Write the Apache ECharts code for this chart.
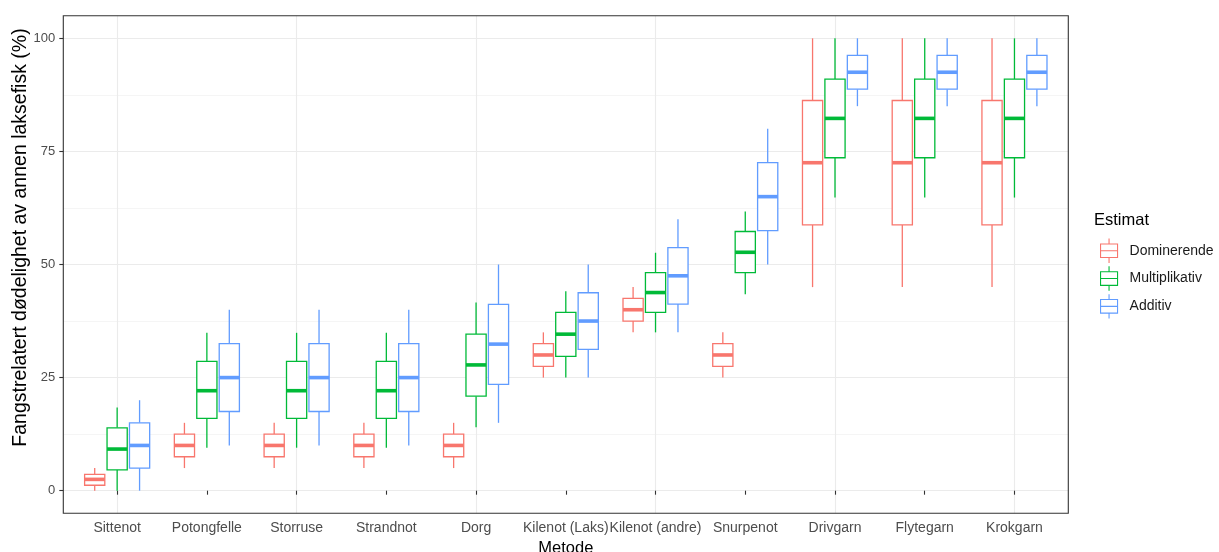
<!DOCTYPE html>
<html>
<head>
<meta charset="utf-8">
<script src="https://cdn.jsdelivr.net/npm/echarts@6/dist/echarts.min.js"></script>
<style>
  html, body { margin: 0; padding: 0; background: #fff; }
  #chart { width: 1219px; height: 552px; }
</style>
</head>
<body>
<div id="chart"></div>
<script>
// Fishing methods on the x axis
const categories = ['Sittenot', 'Potongfelle', 'Storruse', 'Strandnot', 'Dorg',
  'Kilenot (Laks)', 'Kilenot (andre)', 'Snurpenot', 'Drivgarn', 'Flytegarn', 'Krokgarn'];

// Box statistics per method: [min, Q1, median, Q3, max]
const dominerende = [
  [0, 1.2, 2.5, 3.6, 5],
  [5, 7.5, 10, 12.5, 15],
  [5, 7.5, 10, 12.5, 15],
  [5, 7.5, 10, 12.5, 15],
  [5, 7.5, 10, 12.5, 15],
  [25, 27.5, 30, 32.5, 35],
  [35, 37.5, 40, 42.5, 45],
  [25, 27.5, 30, 32.5, 35],
  [45, 58.75, 72.5, 86.25, 100],
  [45, 58.75, 72.5, 86.25, 100],
  [45, 58.75, 72.5, 86.25, 100]
];
const multiplikativ = [
  [0, 4.6, 9.2, 13.9, 18.4],
  [9.5, 16, 22.1, 28.6, 34.9],
  [9.5, 16, 22.1, 28.6, 34.9],
  [9.5, 16, 22.1, 28.6, 34.9],
  [14, 20.9, 27.8, 34.6, 41.6],
  [25, 29.7, 34.6, 39.4, 44.1],
  [35, 39.4, 43.8, 48.2, 52.6],
  [43.4, 48.2, 52.7, 57.3, 61.7],
  [64.8, 73.6, 82.3, 91, 100],
  [64.8, 73.6, 82.3, 91, 100],
  [64.8, 73.6, 82.3, 91, 100]
];
const additiv = [
  [0, 5, 10, 15, 20],
  [10, 17.5, 25, 32.5, 40],
  [10, 17.5, 25, 32.5, 40],
  [10, 17.5, 25, 32.5, 40],
  [15, 23.5, 32.4, 41.2, 50],
  [25, 31.25, 37.5, 43.75, 50],
  [35, 41.25, 47.5, 53.75, 60],
  [50, 57.5, 65, 72.5, 80],
  [85, 88.75, 92.5, 96.25, 100],
  [85, 88.75, 92.5, 96.25, 100],
  [85, 88.75, 92.5, 96.25, 100]
];
const yTicks = [0, 25, 50, 75, 100];

const seriesNames = ['Dominerende', 'Multiplikativ', 'Additiv'];
const seriesData = [dominerende, multiplikativ, additiv];
const colors = ['#F8766D', '#00BA38', '#619CFF'];
const dodge = [-0.25, 0, 0.25];   // offset of each estimate within a method, in bands
const boxFrac = 0.225;            // box width, in bands

const FONT = '"Liberation Sans", Arial, Helvetica, sans-serif';

// Panel geometry: discrete x range is padded by 0.6 band on each side
const panel = { left: 63.3, top: 15.7, width: 1005, height: 497.6 };
const nCat = categories.length;
const band = panel.width / (nCat - 1 + 1.2);
const yTop = panel.top + panel.height * 5 / 110;    // y = 100
const yH = panel.height * 100 / 110;                // 0..100 span

function renderBox(params, api) {
  const s = params.seriesIndex;
  const cat = api.value(0);
  const v = [api.value(1), api.value(2), api.value(3), api.value(4), api.value(5)];
  const bw = api.size([1, 0])[0];
  const cx = api.coord([cat, 0])[0] + dodge[s] * bw;
  const half = bw * boxFrac / 2;
  const py = v.map(val => api.coord([cat, val])[1]);
  const c = colors[s];
  return {
    type: 'group',
    children: [
      { type: 'line', shape: { x1: cx, y1: py[3], x2: cx, y2: py[4] }, style: { stroke: c, lineWidth: 1.3 } },
      { type: 'line', shape: { x1: cx, y1: py[1], x2: cx, y2: py[0] }, style: { stroke: c, lineWidth: 1.3 } },
      { type: 'rect', shape: { x: cx - half, y: py[3], width: 2 * half, height: py[1] - py[3] },
        style: { fill: '#fff', stroke: c, lineWidth: 1.3 } },
      { type: 'line', shape: { x1: cx - half, y1: py[2], x2: cx + half, y2: py[2] }, style: { stroke: c, lineWidth: 3.6 } }
    ]
  };
}

const chart = echarts.init(document.getElementById('chart'), null, { renderer: 'canvas' });

const gridBase = { containLabel: false, outerBoundsMode: 'none' };

const option = {
  animation: false,
  backgroundColor: '#fff',
  textStyle: { fontFamily: FONT },
  title: {
    text: 'Estimat', left: 1094, top: 212, padding: 0,
    textStyle: { fontFamily: FONT, fontSize: 16.5, fontWeight: 'normal', color: '#000' }
  },
  legend: {
    orient: 'vertical', left: 1100, top: 238, padding: 0,
    itemWidth: 17, itemHeight: 24.4, itemGap: 2.3,
    icon: 'path://M8.5,0V5.4M0,5.4H17V19H0ZM0,12.2H17M8.5,19V24.4',
    textStyle: { fontFamily: FONT, fontSize: 14, color: '#1A1A1A', padding: [0, 0, 0, 7] },
    data: seriesNames.map((n, i) => ({
      name: n, itemStyle: { color: '#fff', borderColor: colors[i], borderWidth: 1.1 }
    }))
  },
  grid: [
    // boxes
    Object.assign({ left: panel.left + 0.1 * band, top: yTop, width: nCat * band, height: yH }, gridBase),
    // horizontal grid lines and y ticks
    Object.assign({ left: panel.left, top: yTop, width: panel.width, height: yH }, gridBase),
    // vertical grid lines at method centres
    Object.assign({ left: panel.left + 0.6 * band, top: panel.top, width: (nCat - 1) * band, height: panel.height }, gridBase)
  ],
  xAxis: [
    {
      gridIndex: 0, type: 'category', data: categories, offset: panel.top + panel.height - (yTop + yH),
      axisLine: { show: false },
      axisTick: { show: true, alignWithLabel: true, length: 4, lineStyle: { color: '#333', width: 1.1 } },
      axisLabel: { margin: 8, fontSize: 14, color: '#4D4D4D', fontFamily: FONT, interval: 0, hideOverlap: false },
      splitLine: { show: false },
      name: 'Metode', nameLocation: 'middle', nameGap: 25,
      nameTextStyle: { fontSize: 16.5, color: '#000', fontFamily: FONT }
    },
    { gridIndex: 1, type: 'value', min: 0, max: 1, show: false },
    {
      gridIndex: 2, type: 'category', data: categories, boundaryGap: false,
      axisLine: { show: false }, axisTick: { show: false }, axisLabel: { show: false },
      splitLine: { show: true, lineStyle: { color: '#EBEBEB', width: 1.1 } }
    }
  ],
  yAxis: [
    { gridIndex: 0, type: 'value', min: 0, max: 100, show: false },
    {
      gridIndex: 1, type: 'value', min: yTicks[0], max: yTicks[yTicks.length - 1], interval: 25,
      axisLine: { show: false },
      axisTick: { show: true, length: 4, lineStyle: { color: '#333', width: 1.1 } },
      axisLabel: { margin: 8, fontSize: 13, color: '#4D4D4D', fontFamily: FONT },
      splitLine: { show: true, lineStyle: { color: '#EBEBEB', width: 1.1 } },
      minorTick: { show: false, splitNumber: 2 },
      minorSplitLine: { show: true, lineStyle: { color: '#F2F2F2', width: 0.8 } }
    },
    { gridIndex: 2, type: 'value', min: 0, max: 1, show: false }
  ],
  graphic: [
    {
      type: 'rect', z: 100, silent: true,
      shape: { x: panel.left, y: panel.top, width: panel.width, height: panel.height },
      style: { fill: 'none', stroke: '#333', lineWidth: 1.1 }
    },
    {
      // y axis title, read bottom to top
      type: 'text', x: 20.5, y: 237.5, rotation: Math.PI / 2, silent: true,
      style: {
        text: 'Fangstrelatert dødelighet av annen laksefisk (%)',
        font: '19.5px ' + FONT, fill: '#000', align: 'center', verticalAlign: 'middle'
      }
    }
  ],
  series: seriesNames.map((name, s) => ({
    name: name,
    type: 'custom',
    xAxisIndex: 0, yAxisIndex: 0,
    itemStyle: { color: colors[s] },
    renderItem: renderBox,
    encode: { x: 0, y: [1, 2, 3, 4, 5] },
    data: seriesData[s].map((d, i) => [i].concat(d))
  }))
};

chart.setOption(option);
</script>
</body>
</html>
